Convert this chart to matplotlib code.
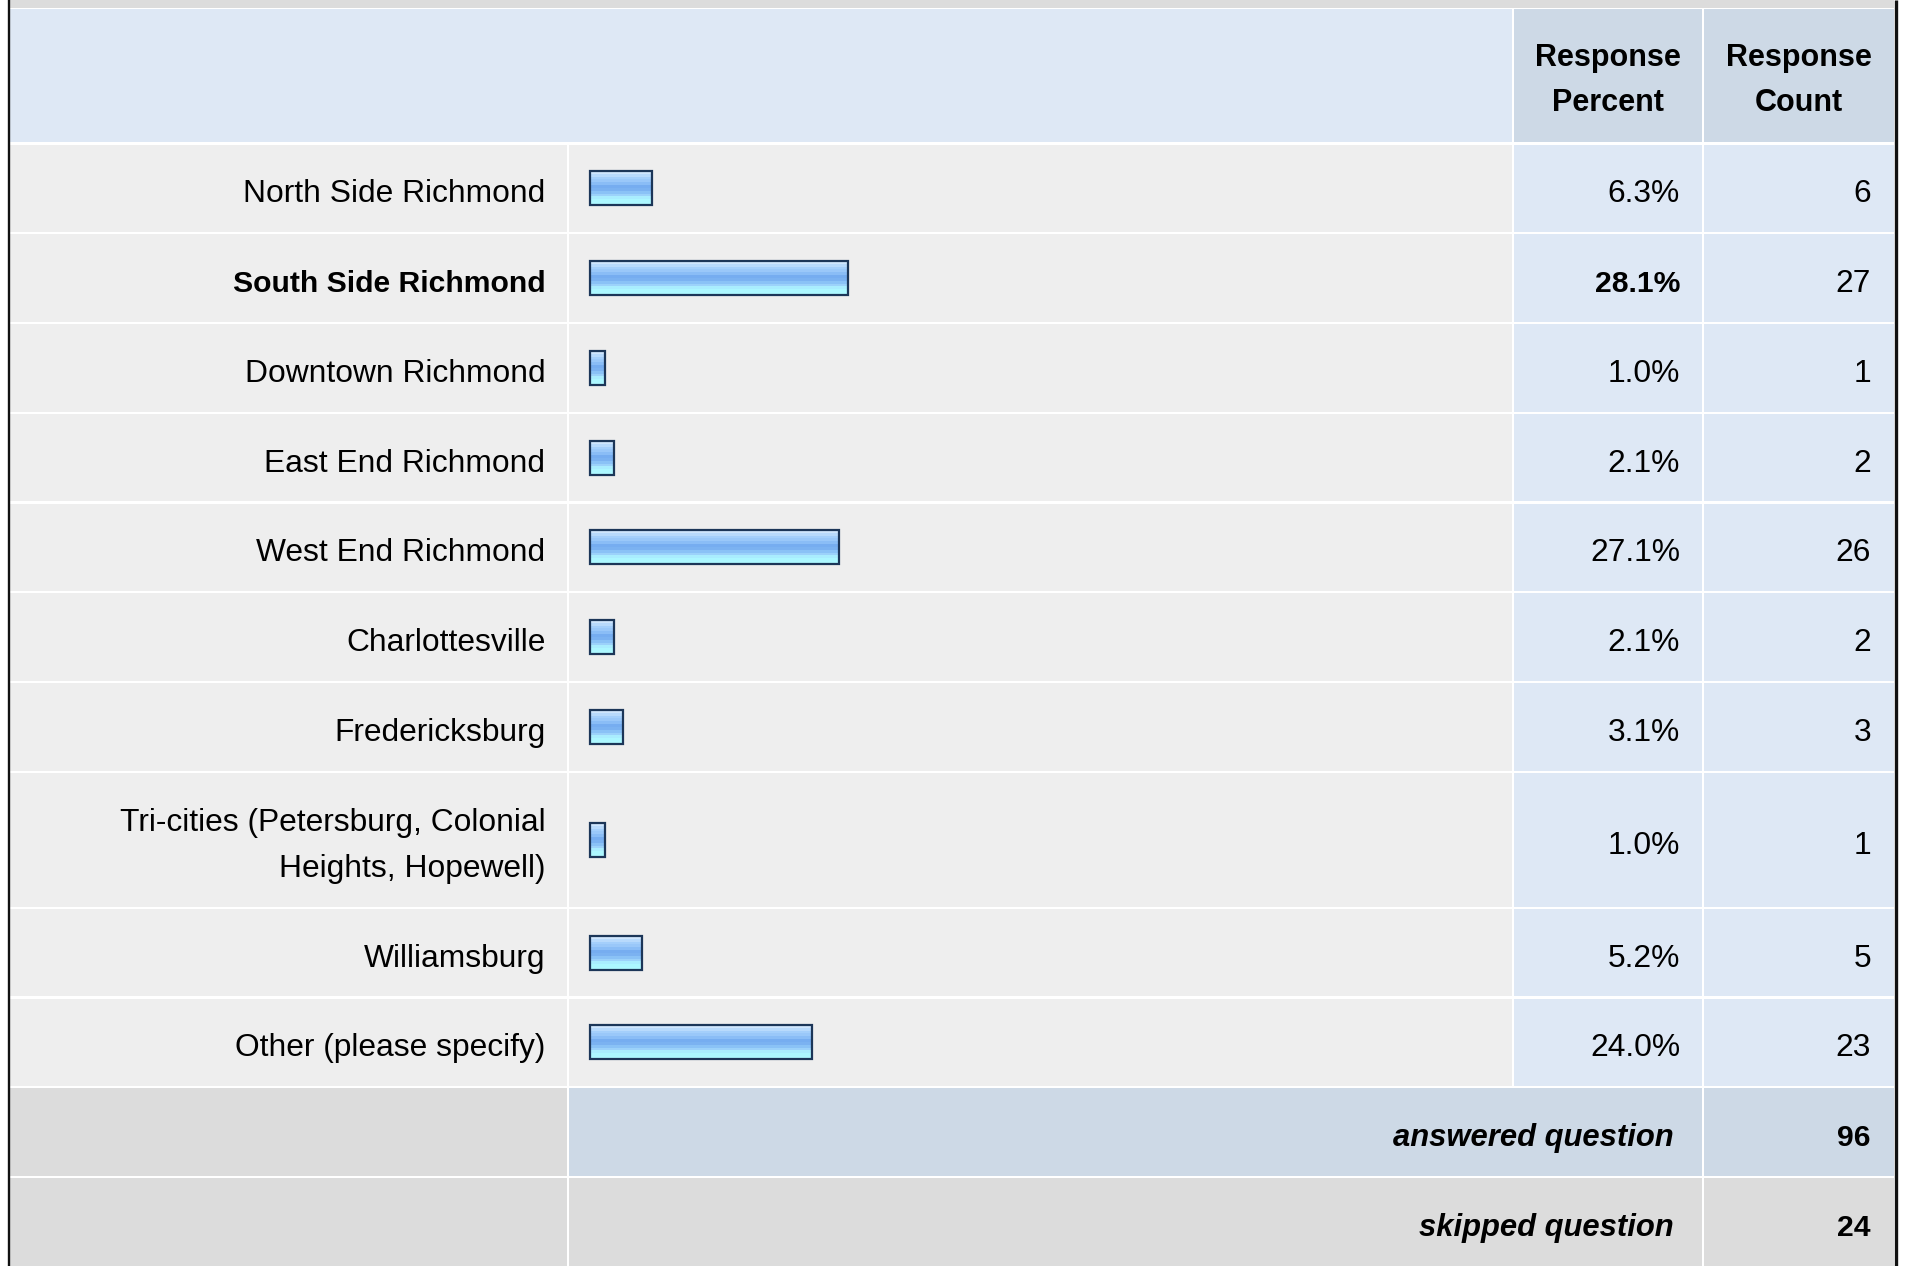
import matplotlib
matplotlib.use('Agg')
import matplotlib.pyplot as plt
from matplotlib.patches import Rectangle
from matplotlib.colors import ListedColormap
import numpy as np

# ---------------- data ----------------
categories = ["North Side Richmond", "South Side Richmond", "Downtown Richmond",
              "East End Richmond", "West End Richmond", "Charlottesville",
              "Fredericksburg", "Tri-cities (Petersburg, Colonial\nHeights, Hopewell)",
              "Williamsburg", "Other (please specify)"]
percents = [6.3, 28.1, 1.0, 2.1, 27.1, 2.1, 3.1, 1.0, 5.2, 24.0]
counts = [6, 27, 1, 2, 26, 2, 3, 1, 5, 23]
highlight = "South Side Richmond"
header_labels = ["Response\nPercent", "Response\nCount"]
summary_labels = ["answered question", "skipped question"]
summary_values = [96, 24]

# ---------------- style ----------------
plt.rcParams['font.family'] = ['Liberation Sans', 'DejaVu Sans']
W, H = 1909, 1266
FS = 22.9        # regular text
FS_B = 21.7      # bold text
FS_BI = 22.3     # bold italic text
LIGHT_BLUE = '#dee8f5'
DARK_BLUE = '#cdd9e6'
ROW_GRAY = '#eeeeee'
GRAY = '#dcdcdc'
BORDER = '#111111'
GAP = 1.2

fig = plt.figure(figsize=(W / 100, H / 100), dpi=100)
ax = fig.add_axes([0, 0, 1, 1])
ax.set_xlim(0, W)
ax.set_ylim(H, 0)
ax.axis('off')

# column edges (pixels)
x_left, x_lab, x_bar, x_pct, x_right = 10, 568, 1513, 1703, 1894
row_h1, row_h2 = 89.75, 136.0
header_top, header_bot = 9.0, 143.5
BASE = 14


def cell(x0, x1, y0, y1, color):
    ax.add_patch(Rectangle((x0 + GAP, y0 + GAP), (x1 - x0) - 2 * GAP, (y1 - y0) - 2 * GAP,
                           facecolor=color, edgecolor='none', zorder=1))


# top strip
ax.add_patch(Rectangle((x_left, 0), x_right - x_left, 7.6, facecolor=GRAY, edgecolor='none', zorder=1))

# header
cell(x_left - GAP, x_bar, header_top - GAP, header_bot, LIGHT_BLUE)
cell(x_bar, x_pct, header_top - GAP, header_bot, DARK_BLUE)
cell(x_pct, x_right + GAP, header_top - GAP, header_bot, DARK_BLUE)
for lab, xc in zip(header_labels, [(x_bar + x_pct) / 2, (x_pct + x_right) / 2]):
    lines = lab.split('\n')
    for i, ln in enumerate(lines):
        ax.text(xc, 66 + i * 45, ln, ha='center', va='baseline', fontsize=FS_B + 0.3,
                fontweight='bold', color='black', zorder=3)

# bar gradient colormap (top -> bottom)
grad_colors = ['#cfe6fd', '#b8dafc', '#a4cffb', '#9ac8f9', '#8abdf6', '#76adf0',
               '#7bb2f1', '#8ac2f6', '#9cd2fa', '#a9edfe', '#acf7ff', '#adf8ff']
cmap = ListedColormap(grad_colors)
grad = np.arange(len(grad_colors)).reshape(-1, 1)

bar_x0 = 590.0
px_per_pct = 9.0
bar_min = 5.5
bar_h = 34.0

y = header_bot
for cat, p, c in zip(categories, percents, counts):
    nlines = cat.count('\n') + 1
    h = row_h1 if nlines == 1 else row_h2
    y0, y1 = y, y + h
    yc = (y0 + y1) / 2
    cell(x_left - GAP, x_lab, y0, y1, ROW_GRAY)
    cell(x_lab, x_bar, y0, y1, ROW_GRAY)
    cell(x_bar, x_pct, y0, y1, LIGHT_BLUE)
    cell(x_pct, x_right + GAP, y0, y1, LIGHT_BLUE)

    is_hl = (cat == highlight)
    wt = 'bold' if is_hl else 'normal'
    fs = FS_B if is_hl else FS
    lines = cat.split('\n')
    if nlines == 1:
        ax.text(545.5, yc + BASE, cat, ha='right', va='baseline', fontsize=fs,
                fontweight=wt, color='black', zorder=3)
    else:
        for i, ln in enumerate(lines):
            ax.text(545.5, yc + BASE - 23 + i * 46, ln, ha='right', va='baseline',
                    fontsize=fs, fontweight=wt, color='black', zorder=3)
    ax.text(1680, yc + BASE, f"{p:.1f}%", ha='right', va='baseline', fontsize=fs,
            fontweight=wt, color='black', zorder=3)
    ax.text(1871, yc + BASE, f"{c}", ha='right', va='baseline', fontsize=FS,
            color='black', zorder=3)

    # bar
    w = bar_min + px_per_pct * p
    ax.imshow(grad, cmap=cmap, aspect='auto', interpolation='nearest', origin='upper',
              extent=(bar_x0, bar_x0 + w, yc + bar_h / 2, yc - bar_h / 2), zorder=2)
    ax.add_patch(Rectangle((bar_x0, yc - bar_h / 2), w, bar_h, fill=False,
                           edgecolor='#1c3658', linewidth=1.6, zorder=2.5))
    y = y1

# summary rows
colors_mid = [DARK_BLUE, GRAY]
for lab, val, cm in zip(summary_labels, summary_values, colors_mid):
    y0, y1 = y, y + row_h1
    yc = (y0 + y1) / 2
    cell(x_left - GAP, x_lab, y0, y1, GRAY)
    cell(x_lab, x_pct, y0, y1, cm)
    cell(x_pct, x_right + GAP, y0, y1, cm)
    ax.text(1674, yc + BASE, lab, ha='right', va='baseline', fontsize=FS_BI,
            fontweight='bold', fontstyle='italic', color='black', zorder=3)
    ax.text(1871, yc + BASE, f"{val}", ha='right', va='baseline', fontsize=FS_B,
            fontweight='bold', color='black', zorder=3)
    y = y1

# outer borders
ax.plot([8.8, 8.8], [0, H], color=BORDER, linewidth=1.7, solid_capstyle='butt', zorder=4)
ax.plot([1896.2, 1896.2], [0, H], color=BORDER, linewidth=2.4, solid_capstyle='butt', zorder=4)

ax.set_xlim(0, W)
ax.set_ylim(H, 0)
fig.savefig('out.png', dpi=100, facecolor='white')
